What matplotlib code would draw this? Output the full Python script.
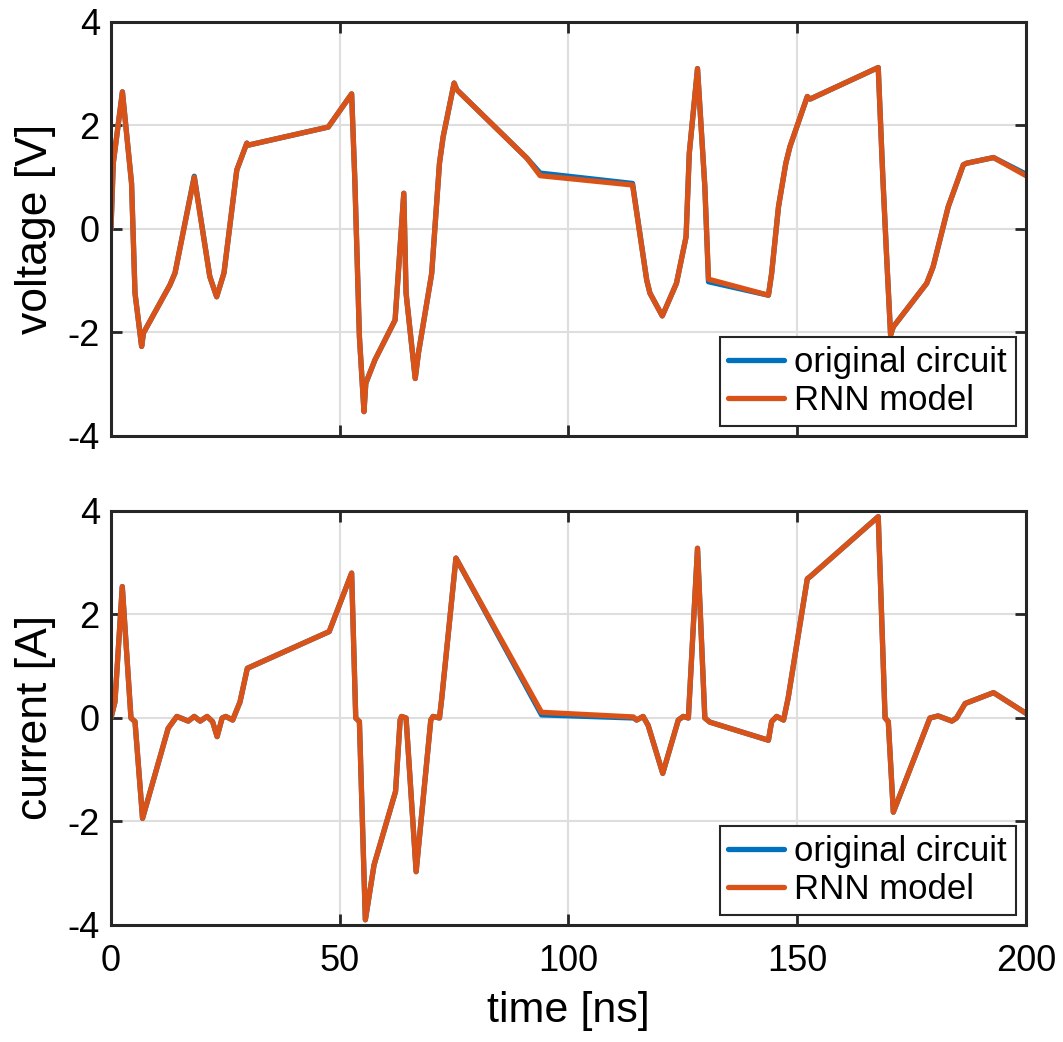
import matplotlib
matplotlib.use("Agg")
import matplotlib.pyplot as plt

plt.rcParams['font.family'] = ['Liberation Sans', 'DejaVu Sans']
plt.rcParams['axes.unicode_minus'] = False

# voltage waveform [ns] / [V]
t_v = [0, 0.5, 2.5, 4.5, 5.25, 6.7, 7.1, 12.9, 14.0, 18.2, 21.6, 23.1, 24.7, 27.5,
       29.7, 30.0, 47.5, 52.6, 53.3, 54.3, 55.3, 55.7, 57.7, 62.1, 64.0, 64.5, 66.5,
       67.2, 70.1, 71.8, 72.6, 75.0, 75.6, 90.9, 93.8, 114.0, 117.1, 117.8, 120.5,
       123.6, 125.7, 126.4, 128.2, 129.8, 130.6, 143.7, 144.4, 145.9, 147.5, 148.4,
       152.2, 152.8, 167.7, 168.7, 169.5, 170.4, 171.0, 178.3, 179.7, 183.0, 186.3,
       187.0, 192.9, 200]
v_rnn = [0, 1.27, 2.65, 0.88, -1.24, -2.27, -2.01, -1.08, -0.85, 1.0, -0.92, -1.31,
         -0.85, 1.14, 1.66, 1.62, 1.97, 2.61, 0.95, -2.08, -3.53, -2.98, -2.53, -1.76,
         0.69, -1.24, -2.89, -2.40, -0.86, 1.27, 1.78, 2.82, 2.69, 1.37, 1.03, 0.85,
         -0.99, -1.24, -1.68, -1.05, -0.15, 1.46, 3.10, 0.82, -0.97, -1.28, -0.86, 0.43,
         1.27, 1.59, 2.56, 2.51, 3.12, 1.01, -0.47, -2.05, -1.89, -1.05, -0.73, 0.43,
         1.24, 1.27, 1.38, 1.03]
v_orig = list(v_rnn)
v_orig[9] = 1.02
v_orig[34] = 1.08
v_orig[35] = 0.88
v_orig[44] = -1.02
v_orig[63] = 1.06

# current waveform [ns] / [A]
t_i = [0, 0.87, 2.47, 4.37, 5.25, 6.9, 12.5, 14.4, 16.9, 18.2, 19.5, 21.0, 22.2, 23.2,
       24.3, 25.1, 26.6, 28.2, 29.8, 47.7, 52.6, 53.5, 54.3, 55.6, 57.5, 62.2, 63.2,
       63.5, 64.5, 66.7, 69.9, 70.4, 71.8, 72.3, 75.4, 94.1, 114.2, 114.9, 116.3,
       117.4, 120.6, 124.0, 125.1, 126.2, 128.2, 129.8, 130.9, 143.7, 144.4, 145.5,
       147.0, 148.0, 152.2, 152.8, 167.7, 169.2, 169.9, 171.0, 179.0, 180.8, 183.8,
       184.8, 186.7, 192.9, 200]
i_rnn = [0, 0.31, 2.54, 0, -0.07, -1.94, -0.2, 0.03, -0.06, 0.03, -0.06, 0.03, -0.07,
         -0.36, 0, 0.03, -0.04, 0.31, 0.96, 1.67, 2.80, 0, -0.07, -3.90, -2.84, -1.42,
         -0.04, 0.03, 0, -2.97, -0.04, 0.03, 0, 0.38, 3.09, 0.11, 0.02, -0.04, 0.03,
         -0.14, -1.07, -0.04, 0.03, 0, 3.28, 0, -0.08, -0.43, -0.07, 0.03, -0.04, 0.38,
         2.69, 2.73, 3.89, 0, -0.07, -1.82, 0, 0.04, -0.06, 0, 0.28, 0.49, 0.09]
i_orig = list(i_rnn)
i_orig[35] = 0.06
i_orig[36] = 0.0

blue = '#0072BD'
orange = '#D95319'
spine_c = '#262626'

fig = plt.figure(figsize=(10.63, 10.42), dpi=100)
ax1 = fig.add_axes([0.1044, 0.5816, 0.8608, 0.3973])
ax2 = fig.add_axes([0.1044, 0.1123, 0.8608, 0.3973])

panels = [(ax1, t_v, v_orig, v_rnn, 'voltage [V]'),
          (ax2, t_i, i_orig, i_rnn, 'current [A]')]

for ax, t, y_o, y_r, lab in panels:
    ax.plot(t, y_o, color=blue, lw=3.8, solid_joinstyle='round', solid_capstyle='round',
            label='original circuit')
    ax.plot(t, y_r, color=orange, lw=3.8, solid_joinstyle='round', solid_capstyle='round',
            label='RNN model')
    ax.set_xlim(0, 200)
    ax.set_ylim(-4, 4)
    ax.set_xticks([0, 50, 100, 150, 200])
    ax.set_yticks([-4, -2, 0, 2, 4])
    ax.grid(True, color='#dedede', lw=1.5)
    ax.set_axisbelow(True)
    for s in ax.spines.values():
        s.set_color(spine_c)
        s.set_linewidth(2.2)
    ax.tick_params(direction='in', length=8, width=2, color=spine_c,
                   top=True, right=True, labelsize=26, pad=8)
    ax.tick_params(axis='x', pad=14)
    ax.set_ylabel(lab, fontsize=32, labelpad=8)
    leg = ax.legend(loc='lower right', fontsize=25, frameon=True, fancybox=False,
                    edgecolor=spine_c, framealpha=1, handlelength=1.6,
                    handletextpad=0.3, borderpad=0.25, labelspacing=0.15,
                    borderaxespad=0.3)
    leg.get_frame().set_linewidth(1.5)

ax1.set_xticklabels([])
ax2.set_xlabel('time [ns]', fontsize=31, labelpad=8)

fig.savefig('out.png', dpi=100)
